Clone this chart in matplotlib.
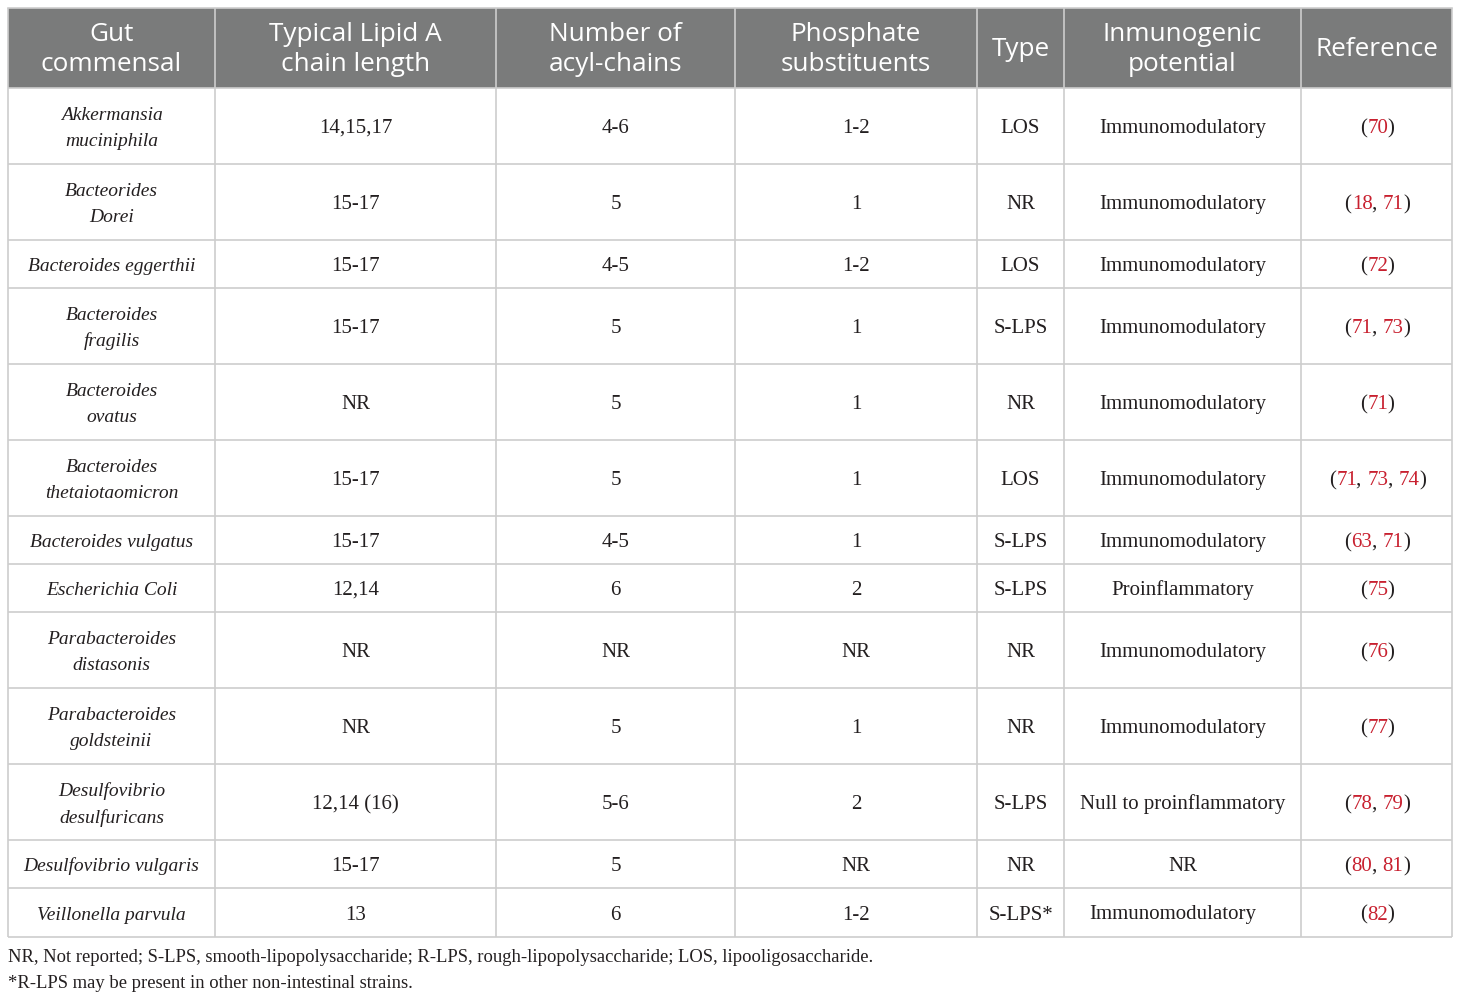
import matplotlib
matplotlib.use("Agg")
import matplotlib.pyplot as plt
from matplotlib.font_manager import FontProperties, findfont, get_font

# table content
headers = ["Gut\ncommensal", "Typical Lipid A\nchain length", "Number of\nacyl-chains",
           "Phosphate\nsubstituents", "Type", "Inmunogenic\npotential", "Reference"]
species = ["Akkermansia\nmuciniphila", "Bacteorides\nDorei", "Bacteroides eggerthii",
           "Bacteroides\nfragilis", "Bacteroides\novatus", "Bacteroides\nthetaiotaomicron",
           "Bacteroides vulgatus", "Escherichia Coli", "Parabacteroides\ndistasonis",
           "Parabacteroides\ngoldsteinii", "Desulfovibrio\ndesulfuricans",
           "Desulfovibrio vulgaris", "Veillonella parvula"]
chain_length = ["14,15,17", "15-17", "15-17", "15-17", "NR", "15-17", "15-17", "12,14",
                "NR", "NR", "12,14 (16)", "15-17", "13"]
acyl_chains = ["4-6", "5", "4-5", "5", "5", "5", "4-5", "6", "NR", "5", "5-6", "5", "6"]
phosphates = ["1-2", "1", "1-2", "1", "1", "1", "1", "2", "NR", "1", "2", "NR", "1-2"]
lps_type = ["LOS", "NR", "LOS", "S-LPS", "NR", "LOS", "S-LPS", "S-LPS", "NR", "NR",
            "S-LPS", "NR", "S-LPS*"]
potential = ["Immunomodulatory", "Immunomodulatory", "Immunomodulatory", "Immunomodulatory",
             "Immunomodulatory", "Immunomodulatory", "Immunomodulatory", "Proinflammatory",
             "Immunomodulatory", "Immunomodulatory", "Null to proinflammatory", "NR",
             "Immunomodulatory"]
references = [["70"], ["18", "71"], ["72"], ["71", "73"], ["71"], ["71", "73", "74"],
              ["63", "71"], ["75"], ["76"], ["77"], ["78", "79"], ["80", "81"], ["82"]]
footnotes = ["NR, Not reported; S-LPS, smooth-lipopolysaccharide; R-LPS, rough-lipopolysaccharide; LOS, lipooligosaccharide.",
             "*R-LPS may be present in other non-intestinal strains."]

# layout in pixels
col_edges = [8, 215, 496, 735, 977, 1064, 1301, 1452]
row_heights = [80, 76, 76, 48, 76, 76, 76, 48, 48, 76, 76, 76, 48, 49]
top = 8

header_bg = "#7a7b7b"
grid_col = "#cdcdcd"
text_col = "#231f20"
ref_col = "#c8202f"
serif = "Liberation Serif"
sans = "Open Sans"
body_size = 15
italic_size = 14
dpi = 100
dy = 2.5  # body text sits slightly below the cell centre

fig = plt.figure(figsize=(14.6, 10), dpi=dpi)
ax = fig.add_axes([0, 0, 1, 1])
ax.set_xlim(0, 1460)
ax.set_ylim(1000, 0)
ax.axis("off")

row_edges = [top]
for h in row_heights:
    row_edges.append(row_edges[-1] + h)

# header background
ax.fill_between([col_edges[0], col_edges[-1]], row_edges[0], row_edges[1],
                color=header_bg, lw=0)
for i, h in enumerate(headers):
    cx = (col_edges[i] + col_edges[i + 1]) / 2
    cy = (row_edges[0] + row_edges[1]) / 2
    ax.text(cx, cy + 1.5, h, ha="center", va="center", color="white",
            family=sans, fontsize=18.8, linespacing=1.28)

# grid lines
for x in col_edges:
    ax.plot([x, x], [row_edges[0], row_edges[-1]], color=grid_col, lw=1.2,
            solid_capstyle="butt")
for y in row_edges[1:]:
    ax.plot([col_edges[0], col_edges[-1]], [y, y], color=grid_col, lw=1.2,
            solid_capstyle="butt")
ax.plot([col_edges[0], col_edges[-1]], [row_edges[0], row_edges[0]], color=grid_col, lw=1.2)

columns = [chain_length, acyl_chains, phosphates, lps_type, potential]

# glyph metrics for the mixed-colour reference cells
prop = FontProperties(family=serif, size=body_size)
ft = get_font(findfont(prop))
ft.set_size(body_size, dpi)


def advance(s):
    return sum(ft.load_char(ord(c)).linearHoriAdvance / 65536 for c in s)


def bearing(s):
    return ft.load_char(ord(s[0])).horiBearingX / 64


renderer = fig.canvas.get_renderer()
_, lp_h, lp_d = renderer.get_text_width_height_descent("lp", prop, ismath=False)

for r in range(len(species)):
    cy = (row_edges[r + 1] + row_edges[r + 2]) / 2 + dy
    cx0 = (col_edges[0] + col_edges[1]) / 2
    ax.text(cx0, cy, species[r], ha="center", va="center", color=text_col,
            family=serif, style="italic", fontsize=italic_size, linespacing=1.62)
    for c, vals in enumerate(columns):
        cx = (col_edges[c + 1] + col_edges[c + 2]) / 2
        # the last potential cell is set a little to the left in the source
        if c == 4 and r == len(species) - 1:
            cx -= 10
        ax.text(cx, cy, vals[r], ha="center", va="center", color=text_col,
                family=serif, fontsize=body_size)
    # reference cell with red numbers
    pieces = [("(", text_col)]
    for k, ref in enumerate(references[r]):
        if k > 0:
            pieces.append((", ", text_col))
        pieces.append((ref, ref_col))
    pieces.append((")", text_col))
    full = "".join(p[0] for p in pieces)
    x = (col_edges[-2] + col_edges[-1]) / 2 - advance(full) / 2
    base = cy + lp_h / 2 - lp_d
    for s, colr in pieces:
        ax.text(x + bearing(s), base, s, ha="left", va="baseline", color=colr,
                family=serif, fontsize=body_size)
        x += advance(s)

for i, note in enumerate(footnotes):
    ax.text(col_edges[0], 958 + i * 25, note, ha="left", va="center",
            color=text_col, family=serif, fontsize=13.4)

fig.savefig("out.png", dpi=dpi)
